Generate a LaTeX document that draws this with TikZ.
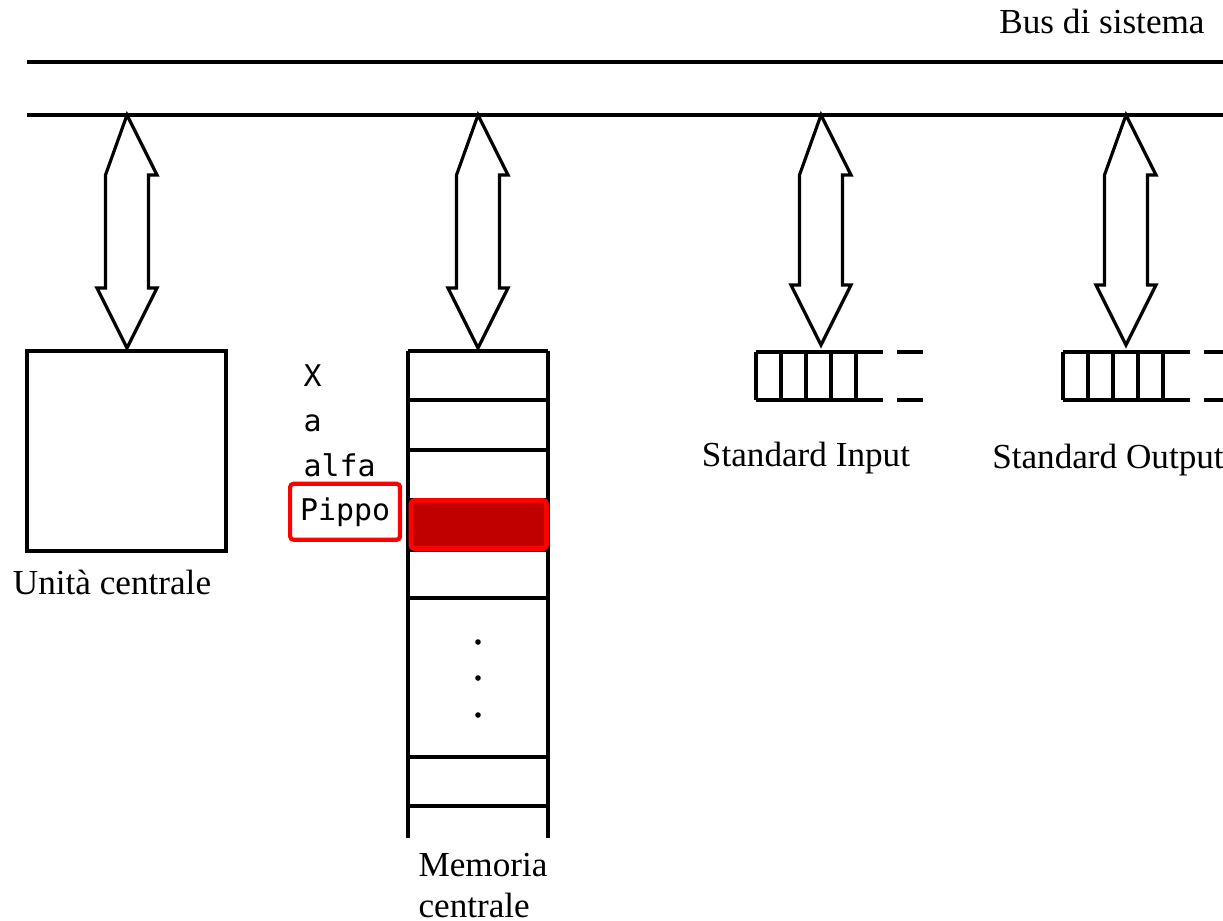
\documentclass[tikz,border=0pt]{standalone}
\usepackage{fontspec}
\setmainfont{Liberation Serif}
\setmonofont{DejaVu Sans Mono}
\usetikzlibrary{positioning,calc}
\definecolor{cellfill}{RGB}{192,0,0}

\tikzset{
  dblarrow/.style={to path={(\tikztostart) -- ++(30,60) -- ++(-8.5,0)
      -- ($(\tikztotarget)+(21.5,-60)$) -- ++(8.5,0) -- (\tikztotarget)
      -- ++(-30,-60) -- ++(8.5,0) -- ($(\tikztostart)+(-21.5,60)$) -- cycle}},
  lbl/.style={font=\fontsize{10}{11.5}\selectfont, anchor=base},
  var/.style={font=\fontsize{8.5}{10}\ttfamily, anchor=base west, inner sep=0pt},
}

\begin{document}
\begin{tikzpicture}[x=0.01cm, y=-0.01cm, line width=0.9pt]
    \useasboundingbox (0,0) rectangle (1223,920);

    % bus
    \draw (27,62) -- (1223,62);
    \draw (27,115) -- (1223,115);
    \node[lbl] (buslbl) at (1102,33) {Bus di sistema};
    \coordinate (b1) at (127,115);
    \coordinate (b2) at (478,115);
    \coordinate (b3) at (821,115);
    \coordinate (b4) at (1126,115);

    % unita' centrale
    \node[draw, minimum width=1.99cm, minimum height=2cm, inner sep=0pt] (cpu) at (126.5,451) {};
    \node[lbl] (cpulbl) at (112,594) {Unità centrale};
    \coordinate (cputop) at (127,348);

    % memoria centrale
    \foreach \y in {351,400,450,500,550,598,757,806}
        \draw (408,\y) -- (548,\y);
    \draw (408,351) -- (408,838);
    \draw (548,351) -- (548,838);
    \draw[draw=red, fill=cellfill, line width=1.4pt, rounded corners=1pt] (411,500.5) rectangle (546.5,548.5);
    \foreach \y in {642,678,715}
        \fill (478,\y) circle (2.8);
    \coordinate (memtop) at (478,348);
    \node[lbl, align=left] (memlbl) at (483,917) {Memoria\\centrale};

    % nomi delle variabili
    \node[var] (vx) at (302,386) {X};
    \node[var] (va) at (302,431) {a};
    \node[var] (valfa) at (302,476) {alfa};
    \node[var, draw=red, line width=1.2pt, rounded corners=1pt, inner xsep=0.1cm,
          minimum height=0.56cm, anchor=base west] (vpippo) at (288,520) {Pippo};

    % standard input / output
    \foreach \qx/\qend in {756/167, 1063/160} {
        \begin{scope}[shift={(\qx,352)}]
            \foreach \x in {0,25,...,100}
                \draw (\x,0) -- (\x,48);
            \draw (0,0) -- (127,0);
            \draw (0,48) -- (127,48);
            \draw (141,0) -- (\qend,0);
            \draw (141,48) -- (\qend,48);
        \end{scope}
    }
    \coordinate (intop) at (821,345);
    \coordinate (outtop) at (1126,345);
    \node[lbl] (inlbl) at (806,466) {Standard Input};
    \node[lbl] (outlbl) at (1108,468) {Standard Output};

    % frecce verso il bus
    \draw[dblarrow] (b1) to (cputop);
    \draw[dblarrow] (b2) to (memtop);
    \draw[dblarrow] (b3) to (intop);
    \draw[dblarrow] (b4) to (outtop);
\end{tikzpicture}
\end{document}
